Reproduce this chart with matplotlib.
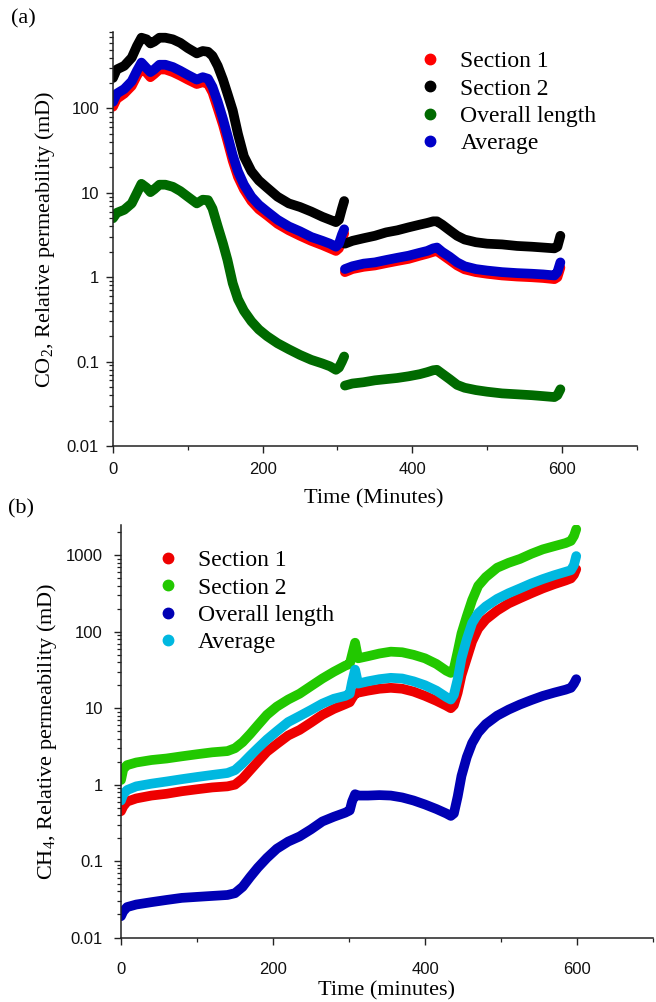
import numpy as np
import matplotlib
matplotlib.use("Agg")
import matplotlib.pyplot as plt
from matplotlib.lines import Line2D

plt.rcParams['mathtext.fontset'] = 'custom'
plt.rcParams['mathtext.rm'] = 'Liberation Serif'
plt.rcParams['mathtext.it'] = 'Liberation Serif:italic'

SERIF = 'Liberation Serif'
SANS = 'Liberation Sans'

# ---------------- (a) CO2 data ----------------
co2_t1 = [0, 5, 15, 25, 32, 38, 45, 50, 55, 62, 70, 80, 90, 100, 112, 120, 127, 133, 140,
          147, 153, 160, 167, 175, 185, 195, 206, 220, 235, 250, 265, 280, 290, 298, 302, 306, 309]
co2_t2 = [310, 320, 335, 350, 365, 380, 395, 410, 420, 428, 433, 440, 450, 460, 470, 485, 500,
          520, 540, 560, 575, 590, 594, 598]

co2_sec1_a = [105, 130, 150, 185, 245, 300, 265, 235, 255, 290, 290, 270, 245, 220, 195, 205, 195, 155, 100,
              64, 41, 24, 15.5, 11, 8, 6.4, 5.4, 4.3, 3.6, 3.1, 2.7, 2.4, 2.2, 2.05, 2.2, 2.8, 3.3]
co2_sec1_b = [1.15, 1.25, 1.33, 1.38, 1.47, 1.56, 1.65, 1.8, 1.9, 2.0, 2.05, 1.85, 1.6, 1.38, 1.24, 1.15, 1.1,
              1.05, 1.02, 1.0, 0.98, 0.95, 1.0, 1.3]

co2_sec2_a = [230, 290, 320, 400, 550, 690, 660, 590, 620, 690, 690, 660, 600, 520, 450, 480, 470, 420, 320,
              220, 150, 95, 50, 27, 18, 14, 11.5, 9, 7.5, 6.8, 6.0, 5.2, 4.8, 4.5, 4.8, 6.5, 8.0]
co2_sec2_b = [2.5, 2.7, 2.9, 3.1, 3.4, 3.6, 3.9, 4.2, 4.4, 4.6, 4.6, 4.2, 3.6, 3.1, 2.8, 2.6, 2.5,
              2.45, 2.35, 2.3, 2.25, 2.2, 2.3, 3.1]

co2_all_a = [5.0, 5.8, 6.3, 7.5, 10, 12.8, 11.5, 10.2, 11, 12.5, 12.5, 11.8, 10.5, 9.0, 7.5, 8.3, 8.2, 6.5, 4.0,
             2.5, 1.6, 0.85, 0.55, 0.4, 0.3, 0.24, 0.2, 0.165, 0.14, 0.12, 0.105, 0.095, 0.088, 0.08, 0.085, 0.1, 0.115]
co2_all_b = [0.052, 0.055, 0.057, 0.06, 0.062, 0.064, 0.067, 0.071, 0.075, 0.079, 0.08, 0.072, 0.062, 0.053,
             0.049, 0.046, 0.044, 0.042, 0.041, 0.04, 0.039, 0.038, 0.04, 0.047]

co2_avg_a = [120, 150, 170, 210, 280, 350, 300, 270, 290, 330, 330, 310, 280, 250, 220, 235, 225, 180, 120,
             75, 48, 28, 18, 12.5, 9, 7.2, 6.0, 4.8, 4.0, 3.5, 3.0, 2.7, 2.5, 2.3, 2.5, 3.2, 3.7]
co2_avg_b = [1.25, 1.35, 1.45, 1.5, 1.6, 1.7, 1.8, 1.95, 2.05, 2.2, 2.25, 2.0, 1.75, 1.5, 1.35, 1.25, 1.2,
             1.15, 1.12, 1.1, 1.08, 1.05, 1.15, 1.5]

co2_labels = ['Section 1', 'Section 2', 'Overall length', 'Average']
co2_colors = ['#ff0000', '#000000', '#006a00', '#0000c8']

# ---------------- (b) CH4 data ----------------
ch4_t = [0, 3, 8, 20, 40, 60, 80, 100, 120, 140, 150, 160, 170, 180, 192, 205, 220, 235, 250, 265, 280,
         295, 301, 304, 308, 312, 325, 340, 355, 370, 385, 400, 415, 428, 434, 438, 443, 448, 455, 462,
         470, 480, 495, 510, 525, 540, 555, 570, 585, 592, 596, 599]

ch4_sec1 = [0.45, 0.52, 0.6, 0.66, 0.72, 0.76, 0.82, 0.87, 0.92, 0.95, 1.0, 1.2, 1.55, 2.0, 2.7, 3.4, 4.4,
            5.2, 6.5, 8.2, 9.8, 11.3, 12, 13.5, 15.5, 16, 17, 18, 18.5, 18, 16.5, 14.5, 12.5, 10.8, 10, 11,
            16, 27, 45, 75, 110, 145, 190, 235, 275, 320, 370, 420, 470, 500, 560, 660]
ch4_sec2 = [1.15, 1.6, 1.8, 1.95, 2.1, 2.2, 2.35, 2.5, 2.65, 2.75, 3.0, 3.6, 4.6, 6.0, 8.2, 10.5, 13,
            15.5, 19.5, 24.5, 30, 36, 38, 50, 72, 45, 48, 52, 55, 54, 50, 45, 38, 31, 29, 33,
            55, 95, 160, 260, 400, 520, 690, 800, 900, 1050, 1200, 1320, 1450, 1550, 1800, 2200]
ch4_all = [0.019, 0.022, 0.025, 0.027, 0.029, 0.031, 0.033, 0.034, 0.035, 0.036, 0.038, 0.046, 0.062,
           0.082, 0.11, 0.145, 0.18, 0.21, 0.26, 0.33, 0.38, 0.43, 0.46, 0.6, 0.75, 0.72, 0.72, 0.73,
           0.72, 0.68, 0.62, 0.55, 0.48, 0.42, 0.39, 0.42, 0.7, 1.3, 2.3, 3.5, 4.8, 6.2, 8.0, 9.6, 11.2,
           12.8, 14.5, 16, 17.5, 18.5, 21, 24]
ch4_avg = [0.62, 0.75, 0.85, 0.95, 1.03, 1.1, 1.18, 1.26, 1.34, 1.42, 1.55, 1.9, 2.4, 3.0, 3.9, 5.0, 6.6,
           7.9, 9.5, 11.5, 13.3, 14.5, 15.5, 22, 32, 21, 22.5, 24, 25, 24.5, 22.5, 20, 17, 14, 13, 15,
           24, 45, 80, 130, 175, 215, 270, 320, 370, 430, 490, 550, 610, 640, 750, 980]

ch4_labels = ['Section 1', 'Section 2', 'Overall length', 'Average']
ch4_colors = ['#ee0000', '#22c800', '#0000b4', '#00b8e0']

x_ticks = [0, 200, 400, 600]

W, H = 656, 1002
fig = plt.figure(figsize=(W / 100, H / 100), dpi=100)


def px_axes(l, t, r, b):
    return fig.add_axes([l / W, 1 - b / H, (r - l) / W, (b - t) / H])


ax1 = px_axes(113, 32.3, 636.7, 446)
ax2 = px_axes(121, 525, 653, 937.5)

LW = 7.0
line_kw = dict(linewidth=LW, solid_capstyle='round', solid_joinstyle='round')

# (a)
for ya, yb, c in [(co2_sec1_a, co2_sec1_b, co2_colors[0]),
                  (co2_sec2_a, co2_sec2_b, co2_colors[1]),
                  (co2_all_a, co2_all_b, co2_colors[2]),
                  (co2_avg_a, co2_avg_b, co2_colors[3])]:
    ax1.plot(co2_t1, ya, color=c, **line_kw)
    ax1.plot(co2_t2, yb, color=c, **line_kw)

# (b)
for ys, c in [(ch4_sec1, ch4_colors[0]), (ch4_sec2, ch4_colors[1]),
              (ch4_all, ch4_colors[2]), (ch4_avg, ch4_colors[3])]:
    ax2.plot(ch4_t, ys, color=c, **line_kw)


def style(ax, ylim, xpad, ypad):
    ax.set_yscale('log')
    ax.set_xlim(0, 700)
    ax.set_ylim(*ylim)
    for s in ['top', 'right']:
        ax.spines[s].set_visible(False)
    for s in ['left', 'bottom']:
        ax.spines[s].set_linewidth(1.1)
        ax.spines[s].set_color('#222222')
    ax.set_xticks(x_ticks)
    ax.set_xticks([100, 300, 500, 700], minor=True)
    ax.yaxis.set_major_formatter(matplotlib.ticker.FuncFormatter(lambda v, p: f'{v:g}'))
    ax.yaxis.set_minor_formatter(matplotlib.ticker.NullFormatter())
    ax.tick_params(which='major', length=5, width=1.0, color='#222222', direction='out')
    ax.tick_params(which='minor', length=3, width=0.9, color='#222222', direction='out')
    ax.tick_params(axis='x', which='major', pad=xpad)
    ax.tick_params(axis='y', which='major', pad=ypad)
    for lab in ax.get_xticklabels() + ax.get_yticklabels():
        lab.set_fontfamily(SANS)
        lab.set_fontsize(12)
        lab.set_color('#111111')


style(ax1, (0.01, 800), 6.5, 5)
style(ax2, (0.01, 2500), 12.5, 8)

ax1.set_xlabel('Time (Minutes)', fontfamily=SERIF, fontsize=16)
ax1.xaxis.set_label_coords(374 / W, 1 - 499 / H, transform=fig.transFigure)
ax1.xaxis.label.set_va('center')
ax1.set_ylabel(r'CO$_2$, Relative permeability (mD)', fontfamily=SERIF, fontsize=16)
ax1.yaxis.set_label_coords(45 / W, 1 - 239 / H, transform=fig.transFigure)
ax1.yaxis.label.set_va('center')

ax2.set_xlabel('Time (minutes)', fontfamily=SERIF, fontsize=16)
ax2.xaxis.set_label_coords(387 / W, 1 - 991 / H, transform=fig.transFigure)
ax2.xaxis.label.set_va('center')
ax2.set_ylabel(r'CH$_{\mathit{4}}$, Relative permeability (mD)', fontfamily=SERIF, fontsize=16)
ax2.yaxis.set_label_coords(47 / W, 1 - 731 / H, transform=fig.transFigure)
ax2.yaxis.label.set_va('center')

fig.text(11 / W, 1 - 19 / H, '(a)', fontfamily=SERIF, fontsize=16, va='center', ha='left')
fig.text(8 / W, 1 - 509 / H, '(b)', fontfamily=SERIF, fontsize=16, va='center', ha='left')


def make_legend(ax, labels, colors, left_px, cy_px):
    handles = [Line2D([], [], linestyle='none', marker='o', markersize=7.5,
                      markerfacecolor=c, markeredgecolor=c) for c in colors]
    leg = ax.legend(handles, labels, loc='center left',
                    bbox_to_anchor=(left_px / W, 1 - cy_px / H),
                    bbox_transform=fig.transFigure, frameon=False, borderpad=0,
                    borderaxespad=0, handlelength=1.0, handletextpad=0.8,
                    labelspacing=0.24, prop={'family': SERIF, 'size': 17})
    return leg


make_legend(ax1, co2_labels, co2_colors, 418, 102.5)
make_legend(ax2, ch4_labels, ch4_colors, 155.7, 601.5)

fig.savefig('out.png', dpi=100)
